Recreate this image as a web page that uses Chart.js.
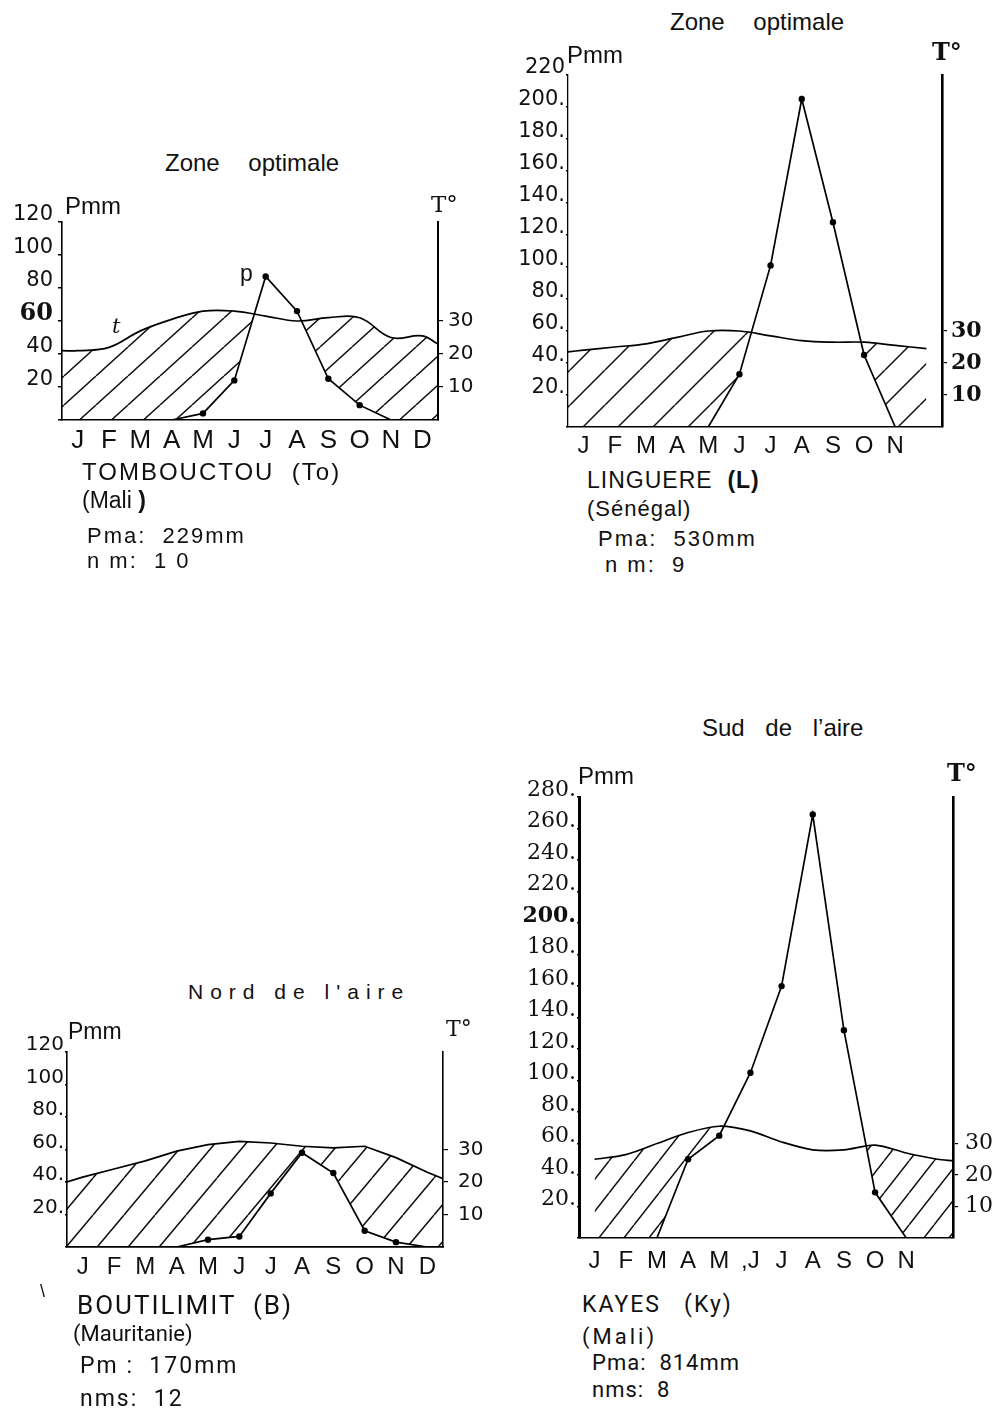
<!DOCTYPE html>
<html>
<head>
<meta charset="utf-8">
<script src="https://cdn.jsdelivr.net/npm/chart.js@4.4.1/dist/chart.umd.min.js"></script>
<style>
    body { margin: 0; width: 1003px; height: 1411px; background: #fff; position: relative; overflow: hidden;
           font-family: "Liberation Sans", Arial, sans-serif; color: #111; }
    .box { position: absolute; }
    .txt { position: absolute; white-space: pre; line-height: 1; }
    .narrow { font-family: Roboto, "Liberation Sans", sans-serif; }
    .serif { font-family: "DejaVu Serif", serif; }
</style>
</head>
<body>
<div class="box" id="c1box"><canvas id="c1"></canvas></div>
<div class="box" id="c2box"><canvas id="c2"></canvas></div>
<div class="box" id="c3box"><canvas id="c3"></canvas></div>
<div class="box" id="c4box"><canvas id="c4"></canvas></div>

<!-- Tombouctou -->
<div class="txt" style="left:165px;top:151px;font-size:24px;word-spacing:22px">Zone optimale</div>
<div class="txt" style="left:65px;top:194px;font-size:24px">Pmm</div>
<div class="txt serif" style="left:431px;top:193px;font-size:23px">T°</div>
<div class="txt" style="left:240px;top:262px;font-size:23px">p</div>
<div class="txt serif" style="left:112px;top:316px;font-size:21px;font-style:italic">t</div>
<div class="txt" style="left:82px;top:460px;font-size:24px;letter-spacing:2px">TOMBOUCTOU  (To)</div>
<div class="txt" style="left:82px;top:489px;font-size:23px">(Mali <b>)</b></div>
<div class="txt" style="left:87px;top:525px;font-size:22px;letter-spacing:2px">Pma:  229mm</div>
<div class="txt" style="left:87px;top:550px;font-size:22px;letter-spacing:2px">n m:  1 0</div>

<!-- Linguere -->
<div class="txt" style="left:670px;top:10px;font-size:24px;word-spacing:22px">Zone optimale</div>
<div class="txt" style="left:567px;top:43px;font-size:24px">Pmm</div>
<div class="txt serif" style="left:932px;top:40px;font-size:24px;font-weight:bold">T°</div>
<div class="txt" style="left:587px;top:469px;font-size:23px;letter-spacing:1px">LINGUERE  <b>(L)</b></div>
<div class="txt" style="left:587px;top:498px;font-size:22px;letter-spacing:1px">(Sénégal)</div>
<div class="txt" style="left:598px;top:528px;font-size:22px;letter-spacing:2px">Pma:  530mm</div>
<div class="txt" style="left:605px;top:554px;font-size:22px;letter-spacing:2px">n m:  9</div>

<!-- Boutilimit -->
<div class="txt" style="left:188px;top:981px;font-size:21px;letter-spacing:7px">Nord de l'aire</div>
<div class="txt" style="left:68px;top:1020px;font-size:23px">Pmm</div>
<div class="txt serif" style="left:446px;top:1018px;font-size:22px">T°</div>
<div class="txt" style="left:40px;top:1282px;font-size:18px">\</div>
<div class="txt narrow" style="left:77px;top:1292px;font-size:26px;letter-spacing:2px">BOUTILIMIT  (B)</div>
<div class="txt narrow" style="left:73px;top:1323px;font-size:22px">(Mauritanie)</div>
<div class="txt narrow" style="left:80px;top:1354px;font-size:23px;letter-spacing:2px">Pm :  170mm</div>
<div class="txt narrow" style="left:80px;top:1387px;font-size:23px;letter-spacing:2px">nms:  12</div>

<!-- Kayes -->
<div class="txt" style="left:702px;top:716px;font-size:24px;word-spacing:14px">Sud de l’aire</div>
<div class="txt" style="left:578px;top:764px;font-size:24px">Pmm</div>
<div class="txt serif" style="left:947px;top:761px;font-size:24px;font-weight:bold">T°</div>
<div class="txt narrow" style="left:582px;top:1293px;font-size:23px;letter-spacing:2px">KAYES   (Ky)</div>
<div class="txt narrow" style="left:582px;top:1326px;font-size:22px;letter-spacing:3px">(Mali)</div>
<div class="txt narrow" style="left:592px;top:1352px;font-size:22px;letter-spacing:1px">Pma:  814mm</div>
<div class="txt narrow" style="left:592px;top:1379px;font-size:22px;letter-spacing:1px">nms:  8</div>

<script>
(function () {
    // month letters under each diagram (the reference omits D on two of them)
    const monthsFull = ['J', 'F', 'M', 'A', 'M', 'J', 'J', 'A', 'S', 'O', 'N', 'D'];
    const monthsNoDec = ['J', 'F', 'M', 'A', 'M', 'J', 'J', 'A', 'S', 'O', 'N', ''];
    const monthsKayes = ['J', 'F', 'M', 'A', 'M', ',J', 'J', 'A', 'S', 'O', 'N', ''];

    // Pmm tick labels, indexed by value / 20
    const tombouctouTicks = ['', '20', '40', '60', '80', '100', '120'];
    const linguereTicks = ['', '20.', '40.', '60.', '80.', '100.', '120.', '140.', '160.', '180.', '200.', '220'];
    const boutilimitTicks = ['', '20.', '40.', '60.', '80.', '100', '120'];
    const kayesTicks = ['', '20.', '40.', '60.', '80.', '100.', '120.', '140.', '160.', '180.', '200.', '220.', '240.', '260.', '280.'];
    const tempTicks = [10, 20, 30];

    // monthly rain (mm) and temperature (°C), plus temperature where the curve meets the side axes
    const tombouctouRain = [0, 0, 0, 0, 4, 24, 87, 66, 25, 9, 0, 0];
    const tombouctouTemp = [21, 22, 27, 30.5, 33, 33, 31.5, 30, 31, 31, 25, 25.5];
    const tombouctouTempEdges = [21, 23];

    const linguereRain = [0, 0, 0, 0, 0, 33, 101, 205, 128, 45, 0, 0];
    const linguereTemp = [24, 25, 26, 28, 30, 30, 28.5, 27, 26.5, 26.5, 25.5, 24.5];
    const linguereTempEdges = [23.5, null];

    const boutilimitRain = [0, 0, 0, 0, 4.5, 6.5, 33, 58, 45.5, 10, 3, 0];
    const boutilimitTemp = [21.5, 24, 26.5, 29.5, 31.5, 32.5, 32, 31, 30.5, 31, 27.5, 23];
    const boutilimitTempEdges = [20, 21];

    const kayesRain = [0, 0, 0, 50, 65, 105, 160, 269, 132, 29, 0, 0];
    const kayesTemp = [25, 26.5, 30, 33.5, 35.5, 34, 30.5, 28, 28, 29.5, 27, 25];
    const kayesTempEdges = [null, 24.5];

    const PAD_TOP = 20;

    const makeHatch = (ctx, w, h, lw) => {
        const tile = document.createElement('canvas');
        tile.width = w;
        tile.height = h;
        const g = tile.getContext('2d');
        g.strokeStyle = '#111';
        g.lineWidth = lw;
        g.beginPath();
        [-w, 0, w].forEach((dx) => {
            g.moveTo(dx, h);
            g.lineTo(dx + w, 0);
        });
        g.stroke();
        return ctx.createPattern(tile, 'repeat');
    };

    const drawStation = (cfg) => {
        const box = document.getElementById(cfg.id + 'box');
        const canvas = document.getElementById(cfg.id);
        const [left, top, right, bottom] = cfg.plot;
        const w = right - left + cfg.axisLeft + cfg.axisRight;
        const h = bottom - top + PAD_TOP + cfg.axisBottom;
        box.style.left = (left - cfg.axisLeft) + 'px';
        box.style.top = (top - PAD_TOP) + 'px';
        canvas.width = w;
        canvas.height = h;
        canvas.style.width = w + 'px';
        canvas.style.height = h + 'px';

        const ctx = canvas.getContext('2d');
        const hatch = makeHatch(ctx, cfg.hatch[0], cfg.hatch[1], 1.5);

        const tempPoints = [];
        if (cfg.tempEdges[0] !== null) tempPoints.push({ x: 0.5, y: cfg.tempEdges[0] });
        cfg.temp.forEach((v, i) => {
            if (v !== null) tempPoints.push({ x: i + 1, y: v });
        });
        if (cfg.tempEdges[1] !== null) tempPoints.push({ x: 12.5, y: cfg.tempEdges[1] });
        const rainPoints = cfg.rain.map((v, i) => ({ x: i + 1, y: v }));

        new Chart(ctx, {
            type: 'line',
            data: {
                datasets: [
                    {
                        label: 'P',
                        data: rainPoints,
                        yAxisID: 'y',
                        borderColor: '#000',
                        borderWidth: 1.7,
                        backgroundColor: '#fff',
                        fill: 'origin',
                        tension: 0,
                        pointRadius: (c) => (c.raw && c.raw.y > 0 ? 3.2 : 0),
                        pointBackgroundColor: '#000',
                        pointBorderWidth: 0
                    },
                    {
                        label: 'T',
                        data: tempPoints,
                        yAxisID: 'y2',
                        borderColor: '#000',
                        borderWidth: 1.7,
                        backgroundColor: hatch,
                        fill: 'origin',
                        tension: cfg.tension,
                        pointRadius: 0
                    }
                ]
            },
            options: {
                responsive: false,
                animation: false,
                devicePixelRatio: 1,
                layout: { padding: { top: PAD_TOP, left: 0, right: 0, bottom: 0 } },
                plugins: {
                    legend: { display: false },
                    tooltip: { enabled: false },
                    filler: { drawTime: 'beforeDatasetsDraw' }
                },
                scales: {
                    x: {
                        type: 'linear',
                        min: 0.5,
                        max: 12.5,
                        afterBuildTicks: (axis) => {
                            axis.ticks = cfg.months.map((m, i) => ({ value: i + 1 }));
                        },
                        afterFit: (axis) => { axis.height = cfg.axisBottom; },
                        grid: { drawOnChartArea: false, drawTicks: false },
                        border: { color: '#000', width: cfg.borders[2], z: 1 },
                        ticks: {
                            autoSkip: false,
                            maxRotation: 0,
                            padding: cfg.monthPad,
                            color: '#111',
                            font: { family: '"Liberation Sans", Arial, sans-serif', size: cfg.monthSize },
                            callback: (v) => cfg.months[v - 1]
                        }
                    },
                    y: {
                        position: 'left',
                        min: 0,
                        max: cfg.yMax,
                        afterFit: (axis) => { axis.width = cfg.axisLeft; },
                        grid: { drawOnChartArea: false, tickLength: cfg.yTickLen, color: '#000', lineWidth: 1.5 },
                        border: { color: '#000', width: cfg.borders[0], z: 1 },
                        ticks: {
                            stepSize: 20,
                            padding: cfg.yPad,
                            labelOffset: -7,
                            color: '#111',
                            font: (c) => (c.tick && c.tick.value === cfg.boldTick ? cfg.boldFont : cfg.yFont),
                            callback: (v) => cfg.yLabels[v / 20]
                        }
                    },
                    y2: {
                        position: 'right',
                        min: 0,
                        max: cfg.yMax / 2,
                        afterBuildTicks: (axis) => {
                            axis.ticks = tempTicks.map((v) => ({ value: v }));
                        },
                        afterFit: (axis) => { axis.width = cfg.axisRight; },
                        grid: { drawOnChartArea: false, tickLength: 5, color: '#000', lineWidth: 1.2 },
                        border: { color: '#000', width: cfg.borders[1], z: 1 },
                        ticks: {
                            padding: cfg.tPad,
                            color: '#111',
                            font: cfg.tFont,
                            callback: (v) => String(v)
                        }
                    }
                }
            }
        });
    };

    const sans = (size) => ({ family: '"DejaVu Sans", sans-serif', size });
    const serif = (size, weight) => ({ family: '"DejaVu Serif", serif', size, weight: weight || 'normal' });

    drawStation({
        id: 'c1', plot: [62, 222, 438, 420], axisLeft: 62, axisRight: 55, axisBottom: 40,
        yMax: 120, yLabels: tombouctouTicks, months: monthsFull,
        rain: tombouctouRain, temp: tombouctouTemp, tempEdges: tombouctouTempEdges,
        tension: 0.4, hatch: [32, 29], borders: [1.6, 2, 1.6],
        monthSize: 26, monthPad: 5, yTickLen: 4, yPad: 5, tPad: 5,
        yFont: sans(21), boldTick: 60, boldFont: serif(24, 'bold'), tFont: sans(20)
    });

    drawStation({
        id: 'c2', plot: [568, 75, 942, 427], axisLeft: 68, axisRight: 55, axisBottom: 40,
        yMax: 220, yLabels: linguereTicks, months: monthsNoDec,
        rain: linguereRain, temp: linguereTemp, tempEdges: linguereTempEdges,
        tension: 0.4, hatch: [35, 35], borders: [1.3, 2.6, 1.6],
        monthSize: 24, monthPad: 5, yTickLen: 2, yPad: 1, tPad: 4,
        yFont: sans(21), boldTick: -1, boldFont: sans(21), tFont: serif(22, 'bold')
    });

    drawStation({
        id: 'c3', plot: [67, 1050, 443, 1247], axisLeft: 67, axisRight: 55, axisBottom: 40,
        yMax: 120, yLabels: boutilimitTicks, months: monthsFull,
        rain: boutilimitRain, temp: boutilimitTemp, tempEdges: boutilimitTempEdges,
        tension: 0, hatch: [31, 37], borders: [1.6, 1.6, 1.8],
        monthSize: 24, monthPad: 6, yTickLen: 2, yPad: 1, tPad: 10,
        yFont: sans(20), boldTick: -1, boldFont: sans(20), tFont: sans(20)
    });

    drawStation({
        id: 'c4', plot: [579, 797, 953, 1238], axisLeft: 70, axisRight: 50, axisBottom: 40,
        yMax: 280, yLabels: kayesTicks, months: monthsKayes,
        rain: kayesRain, temp: kayesTemp, tempEdges: kayesTempEdges,
        tension: 0.3, hatch: [25, 32], borders: [3, 2.6, 1.6],
        monthSize: 24, monthPad: 9, yTickLen: 2, yPad: 1, tPad: 7,
        yFont: serif(22), boldTick: 200, boldFont: serif(22, 'bold'), tFont: serif(22)
    });
})();
</script>
</body>
</html>
